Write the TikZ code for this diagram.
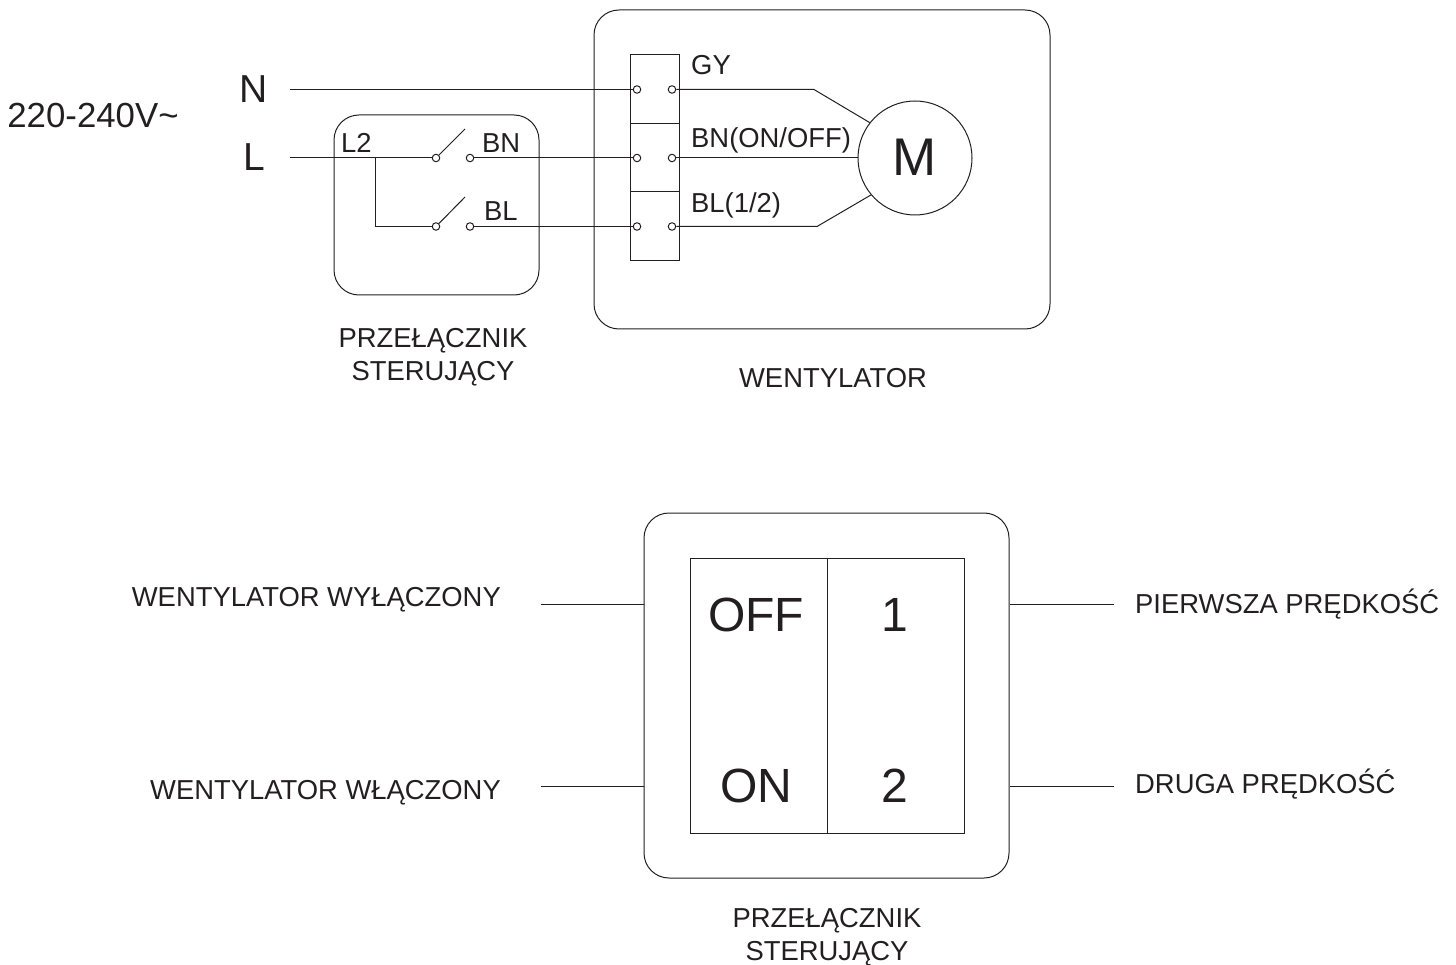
\documentclass[tikz,border=0pt]{standalone}
\usepackage{fontspec}
\setmainfont{Liberation Sans}
\usepackage{xcolor}
\definecolor{inkline}{HTML}{231F20}
\tikzset{
  wire/.style={draw=inkline, line width=1pt},
  housing/.style={draw=inkline, line width=1pt, rounded corners=25pt, inner sep=0pt},
  term/.style={circle, draw=inkline, fill=white, line width=1pt, inner sep=0pt, minimum size=7.5pt},
  lbl/.style={font=\fontsize{27.4}{32.5}\selectfont, text=inkline, inner sep=0pt},
  biglbl/.style={font=\fontsize{39}{46}\selectfont, text=inkline, inner sep=0pt},
  keylbl/.style={font=\fontsize{48}{54}\selectfont, text=inkline, inner sep=0pt}
}
\begin{document}
\begin{tikzpicture}[x=1pt, y=-1pt]
\useasboundingbox (0,0) rectangle (1456,965);
% Housings
\node[housing, minimum width=456pt, minimum height=319pt] (fan) at (822,169.5) {};
\node[housing, minimum width=205pt, minimum height=180pt] (swbox) at (436.5,205) {};
% Terminal block
\node[wire, minimum width=49pt, minimum height=69pt, inner sep=0pt] (blockn) at (654.5,89.5) {};
\node[wire, minimum width=49pt, minimum height=68pt, inner sep=0pt] (blockl) at (654.5,158) {};
\node[wire, minimum width=49pt, minimum height=69pt, inner sep=0pt] (blockb) at (654.5,226.5) {};
% Motor
\node[circle, wire, minimum size=114pt, inner sep=0pt] (motor) at (915,158) {};
\node[keylbl, font=\fontsize{53}{60}\selectfont] (mlbl) at (915,157) {M};
% Wire ends and bends
\coordinate (nin) at (290,89.5);
\coordinate (lin) at (290,158);
\coordinate (tee) at (375,158);
\coordinate (teedn) at (375,226.5);
\coordinate (gybend) at (814,89.5);
\coordinate (blbend) at (817,226.5);
\coordinate (bladea) at (465,129);
\coordinate (bladeb) at (465,197);
% Terminals
\foreach \nm/\px/\py in {ninl/637/89.5, nout/672/89.5, linl/637/158, lout/672/158, binl/637/226.5, bout/672/226.5, swa/436/158, swb/470/158, swc/436/226.5, swd/470/226.5}
  \node[term] (\nm) at (\px,\py) {};
% Wires
\draw[wire] (nin) -- (ninl);
\draw[wire] (lin) -- (swa);
\draw[wire] (tee) -- (teedn) -- (swc);
\draw[wire] (swa) -- (bladea);
\draw[wire] (swc) -- (bladeb);
\draw[wire] (swb) -- (linl);
\draw[wire] (swd) -- (binl);
\draw[wire] (nout) -- (gybend) -- (motor.142);
\draw[wire] (lout) -- (motor.west);
\draw[wire] (bout) -- (blbend) -- (motor.220);
% Labels, top
\node[biglbl] (nlbl) at (254,89) {N};
\node[biglbl] (llbl) at (254,157) {L};
\node[lbl, font=\fontsize{34.8}{40}\selectfont] (vlbl) at (93,116) {220-240V\textasciitilde};
\node[lbl, anchor=west] (l2lbl) at (341,143) {L2};
\node[lbl, anchor=west] (bnlbl) at (482,143) {BN};
\node[lbl, anchor=west] (bllbl) at (484,211) {BL};
\node[lbl, anchor=west] (gylbl) at (691,65) {GY};
\node[lbl, anchor=west] (onlbl) at (691,140) {BN(ON/OFF)};
\node[lbl, anchor=west] (splbl) at (691,205) {BL(1/2)};
\node[lbl, align=center] (swname) at (433,357) {PRZEŁĄCZNIK\\STERUJĄCY};
\node[lbl] (fanname) at (833,378) {WENTYLATOR};
% Wall switch
\node[housing, minimum size=365pt] (plate) at (826.5,695.5) {};
\node[wire, minimum width=274pt, minimum height=275pt, inner sep=0pt] (rocker) at (827,695.5) {};
\draw[wire] (rocker.north) -- (rocker.south);
\node[keylbl] (offlbl) at (756,615) {OFF};
\node[keylbl] (onkey) at (756,786) {ON};
\node[keylbl] (onekey) at (895,615) {1};
\node[keylbl] (twokey) at (895,786) {2};
% Leaders
\coordinate (offend) at (541,604);
\coordinate (onend) at (541,786);
\coordinate (firstend) at (1114,604);
\coordinate (secondend) at (1114,786);
\draw[wire] (offend) -- (offend -| plate.west);
\draw[wire] (onend) -- (onend -| plate.west);
\draw[wire] (firstend) -- (firstend -| plate.east);
\draw[wire] (secondend) -- (secondend -| plate.east);
\node[lbl, anchor=east] (offname) at (501,600) {WENTYLATOR WYŁĄCZONY};
\node[lbl, anchor=east] (onname) at (501,793) {WENTYLATOR WŁĄCZONY};
\node[lbl, anchor=west] (firstname) at (1135,604) {PIERWSZA PRĘDKOŚĆ};
\node[lbl, anchor=west] (secondname) at (1135,784) {DRUGA PRĘDKOŚĆ};
\node[lbl, align=center] (platename) at (827,937) {PRZEŁĄCZNIK\\STERUJĄCY};
\end{tikzpicture}
\end{document}
